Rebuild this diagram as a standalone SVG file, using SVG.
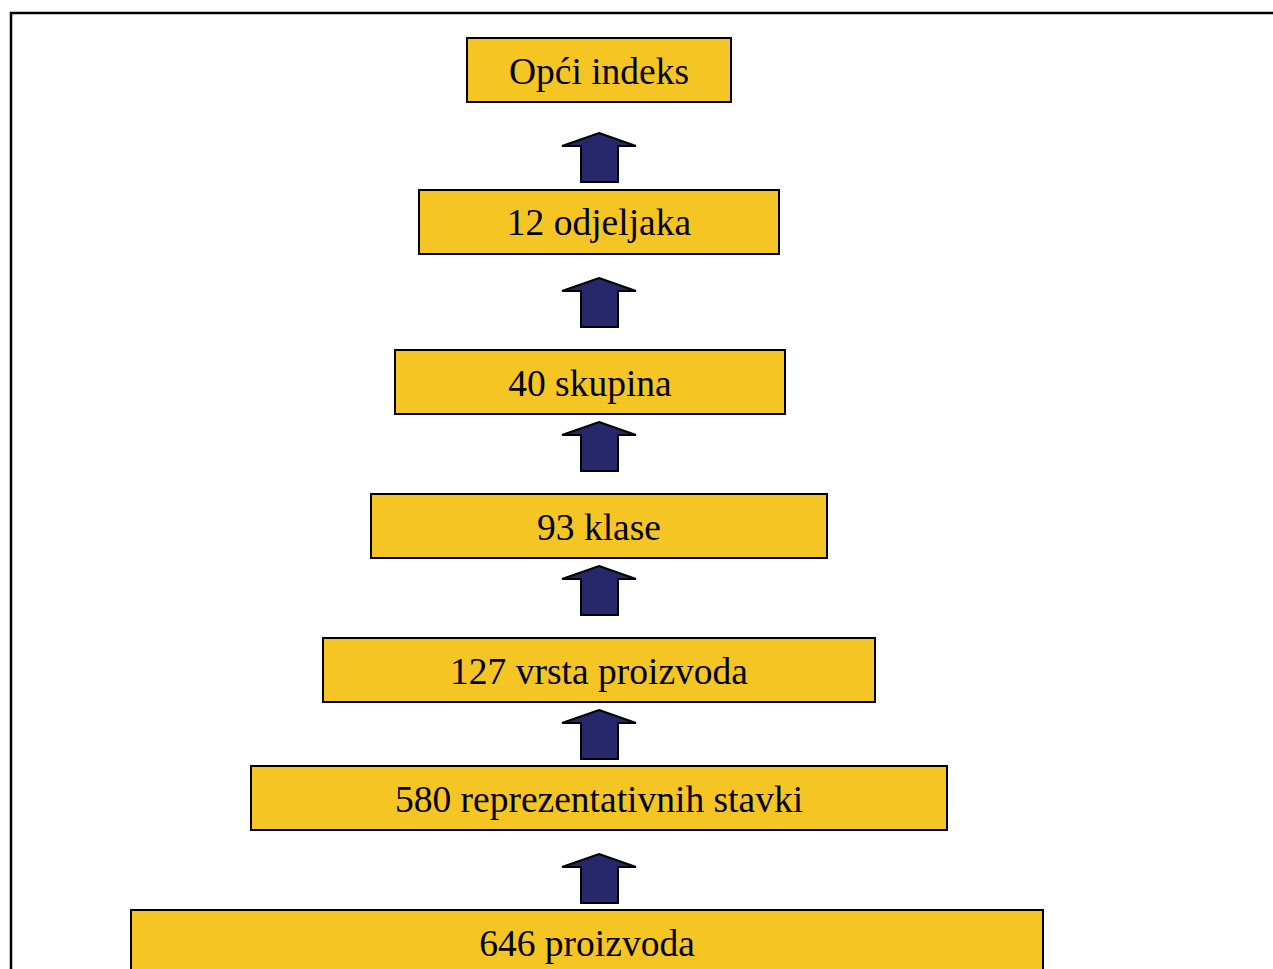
<svg xmlns="http://www.w3.org/2000/svg" width="1273" height="969" viewBox="0 0 1273 969">
<style>
.box{fill:#F5C623;stroke:#000;stroke-width:2}
.lbl{font-family:"Liberation Serif","Times New Roman",serif;font-size:37.5px;fill:#000;text-anchor:middle}
.arr{fill:#27286B;stroke:#000;stroke-width:2;stroke-linejoin:miter}
</style>
<rect width="1273" height="969" fill="#fff"/>
<path d="M11,969 V13 H1273" fill="none" stroke="#000" stroke-width="2.5"/>
<defs>
<path id="arrow" d="M0,0 L37,13 H19 V49 H-18 V13 H-37 Z"/>
</defs>
<g id="connectors">
<use href="#arrow" class="arr" x="599" y="133"/>
<use href="#arrow" class="arr" x="599" y="278"/>
<use href="#arrow" class="arr" x="599" y="422"/>
<use href="#arrow" class="arr" x="599" y="566"/>
<use href="#arrow" class="arr" x="599" y="710"/>
<use href="#arrow" class="arr" x="599" y="854"/>
</g>
<g id="n1"><rect class="box" x="467" y="38" width="264" height="64"/><text class="lbl" x="599" y="84">Opći indeks</text></g>
<g id="n2"><rect class="box" x="419" y="190" width="360" height="64"/><text class="lbl" x="599" y="235">12 odjeljaka</text></g>
<g id="n3"><rect class="box" x="395" y="350" width="390" height="64"/><text class="lbl" x="590" y="396">40 skupina</text></g>
<g id="n4"><rect class="box" x="371" y="494" width="456" height="64"/><text class="lbl" x="599" y="540">93 klase</text></g>
<g id="n5"><rect class="box" x="323" y="638" width="552" height="64"/><text class="lbl" x="599" y="684">127 vrsta proizvoda</text></g>
<g id="n6"><rect class="box" x="251" y="766" width="696" height="64"/><text class="lbl" x="599" y="812">580 reprezentativnih stavki</text></g>
<g id="n7"><rect class="box" x="131" y="910" width="912" height="80"/><text class="lbl" x="587" y="956">646 proizvoda</text></g>
</svg>
